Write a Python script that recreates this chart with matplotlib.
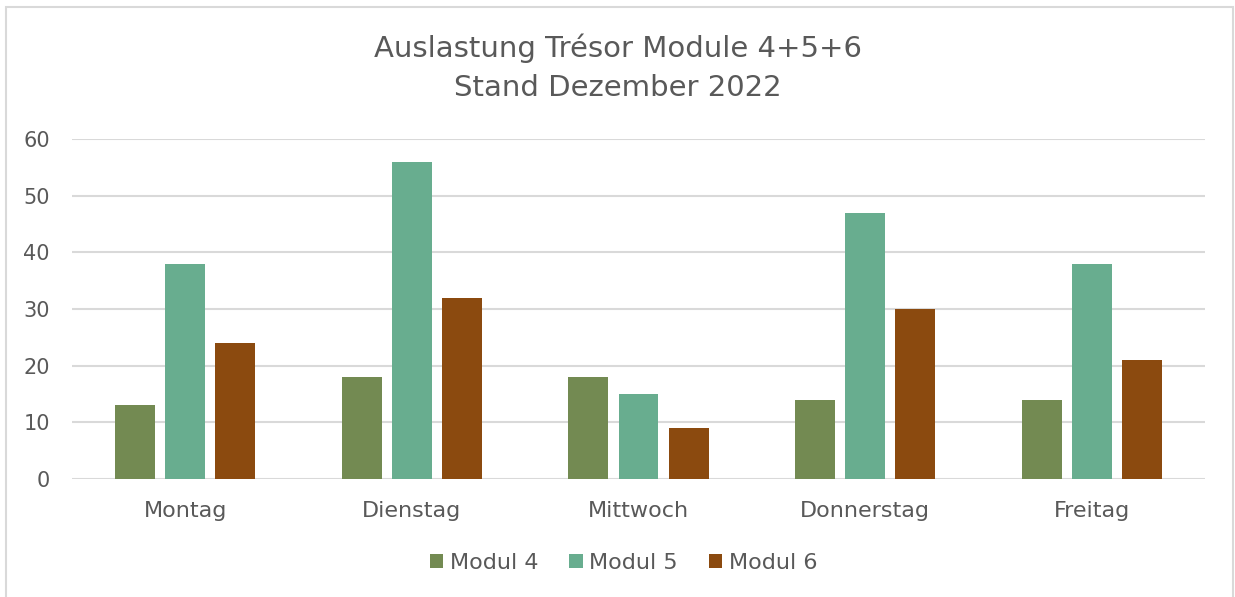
import matplotlib.pyplot as plt
import numpy as np
from matplotlib.patches import Rectangle

plt.rcParams['font.family'] = ['DejaVu Sans']

tage = ['Montag', 'Dienstag', 'Mittwoch', 'Donnerstag', 'Freitag']
modul4 = [13, 18, 18, 14, 14]
modul5 = [38, 56, 15, 47, 38]
modul6 = [24, 32, 9, 30, 21]
namen = ['Modul 4', 'Modul 5', 'Modul 6']
farben = ['#738A52', '#68AD8F', '#8B4A0F']

grau = '#595959'

fig = plt.figure(figsize=(12.35, 5.97), dpi=100)
ax = fig.add_axes([72/1235, 1-479/597, (1205-72)/1235, 340/597])

x = np.arange(len(tage))
breite = 0.176
abstand = 0.221
for i, (werte, name, farbe) in enumerate(zip([modul4, modul5, modul6], namen, farben)):
    ax.bar(x + (i-1)*abstand, werte, breite, color=farbe, label=name, zorder=3)

ax.set_xlim(-0.5, 4.5)
ax.set_ylim(0, 60)
ax.set_yticks(range(0, 61, 10))
ax.set_xticks(x)
ax.set_xticklabels(tage)
ax.grid(axis='y', color='#D9D9D9', linewidth=1.5, zorder=0)
for s in ax.spines.values():
    s.set_visible(False)
ax.tick_params(length=0, labelsize=15, labelcolor=grau)
ax.tick_params(axis='x', pad=16, labelsize=16)
ax.tick_params(axis='y', pad=16)

fig.text(0.5, 1-48/597, 'Auslastung Trésor Module 4+5+6', ha='center', va='center',
         fontsize=21, color=grau)
fig.text(0.5, 1-88/597, 'Stand Dezember 2022', ha='center', va='center',
         fontsize=21, color=grau)

fig.legend(loc='center', bbox_to_anchor=(0.505, 1-563/597), ncol=3, frameon=False,
           fontsize=16, labelcolor=grau, handlelength=0.6, handleheight=0.6,
           handletextpad=0.3, columnspacing=1.4)

fig.patches.append(Rectangle((6/1235, -0.02), 1227/1235, 1-7/597+0.02, transform=fig.transFigure,
                             fill=False, edgecolor='#D9D9D9', linewidth=1.5))

plt.savefig('out.png', dpi=100)
